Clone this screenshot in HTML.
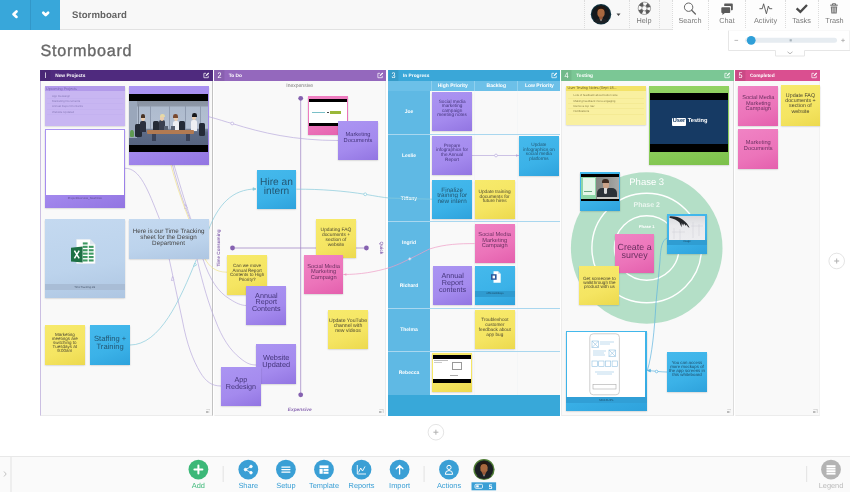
<!DOCTYPE html>
<html><head><meta charset="utf-8">
<style>
*{box-sizing:border-box;margin:0;padding:0}
html,body{width:850px;height:492px;overflow:hidden;background:#fff;font-family:"Liberation Sans",sans-serif;text-rendering:geometricPrecision}
body{will-change:transform}
.a{position:absolute}
#top{left:0;top:0;width:850px;height:30px;background:#f8f8f8;border-bottom:1px solid #e2e2e2}
.nb{top:0;height:30px;width:30px;background:#38a7da}
.tbtn{top:0;height:30px;border-left:1px dashed #d5d5d5;text-align:center;font-size:8px;color:#777;padding-top:19px}
.sec{top:70px;height:345.5px;background:#f9f9f9}
.bd{left:0;top:0;right:0;bottom:0;border:1px solid #ececec;border-top:none}
.hd{left:0;top:0;right:0;height:10.5px;color:#fff;font-size:4.8px;font-weight:bold;line-height:10.5px;white-space:nowrap}
.hd b{position:absolute;left:0;top:0;width:11px;height:10.5px;line-height:11.5px;background:rgba(0,0,0,.07);text-align:center;font-size:8px;font-weight:normal;transform:scaleX(.9)}
.hd i{position:absolute;left:15px;top:1.9px;font-style:normal;line-height:10.5px}
.n{box-shadow:0 .6px 1.600px rgba(0,0,0,.22);text-align:center;color:#333;overflow:hidden}
.pu{background:linear-gradient(160deg,#ab95f2 0%,#a48aee 60%,#9275e2 100%)}
.bl{background:linear-gradient(160deg,#45b9ec 0%,#3bb2e8 60%,#2ea2dc 100%)}
.ye{background:linear-gradient(160deg,#f7ea6c 0%,#f5e562 60%,#ecd94e 100%)}
.lpu{background:#c8b6f2}
.lb{background:linear-gradient(170deg,#c4d9f0 0%,#bcd3ec 60%,#aec6e2 100%)}
.ly{background:#f9f0a0}
.gr{background:linear-gradient(170deg,#93d364 0%,#8bcd5a 70%,#7cc04a 100%)}
.pk{background:linear-gradient(160deg,#f083c4 0%,#ec74ba 60%,#e45fad 100%)}
.t1{font-size:4.2px;line-height:4.6px;padding-top:8px}
.t2{font-size:8px;line-height:8.5px}
.t3{font-size:5.2px;line-height:5.6px}
.row{left:0;width:42px;color:#fff;font-size:5px;font-weight:bold;text-align:center}
.tl{top:15.9px;text-align:center;font-size:7.3px;line-height:10px;color:#7a7a7a}
.bb{border-radius:50%;width:20px;height:20px;top:460px;background:#3a9fd5}
.bl8{top:481px;width:50px;text-align:center;font-size:7.4px;line-height:10px}
</style></head><body>
<!-- TOP BAR -->
<div id="top" class="a"></div>
<div class="a nb" style="left:0"></div><div class="a nb" style="left:30px;border-left:1px solid #3297c8"></div>
<svg class="a" style="left:0;top:0" width="60" height="30"><path d="M16.500 11.500 L13.500 14.200 L16.500 16.900" fill="none" stroke="#fff" stroke-width="2.700" stroke-linecap="round" stroke-linejoin="round"/><path d="M43.300 12.700 L45.700 15.100 L48.100 12.700" fill="none" stroke="#fff" stroke-width="2.700" stroke-linecap="round" stroke-linejoin="round"/></svg>
<div class="a" style="left:72px;top:10px;font-size:9.6px;font-weight:bold;color:#646464;line-height:12px;letter-spacing:.05px">Stormboard</div>
<div class="a" style="left:40.5px;top:40.2px;font-size:16.2px;color:#686868;line-height:22px;letter-spacing:.72px;-webkit-text-stroke:.35px #686868">Stormboard</div>

<!-- top right -->
<div class="a" style="left:672px;top:0;width:178px;height:29.5px;background:#fdfdfd"></div>
<div class="a" style="left:583.5px;top:0;height:29.5px;border-left:1px dotted #dcdcdc"></div>
<div class="a" style="left:629px;top:0;height:29.5px;border-left:1px dotted #dcdcdc"></div>
<div class="a" style="left:659px;top:0;height:29.5px;border-left:1px dotted #dcdcdc"></div>
<div class="a" style="left:671.5px;top:0;height:29.5px;border-left:1px dotted #dcdcdc"></div>
<div class="a" style="left:708px;top:0;height:29.5px;border-left:1px dotted #dcdcdc"></div>
<div class="a" style="left:745px;top:0;height:29.5px;border-left:1px dotted #dcdcdc"></div>
<div class="a" style="left:784.5px;top:0;height:29.5px;border-left:1px dotted #dcdcdc"></div>
<div class="a" style="left:818px;top:0;height:29.5px;border-left:1px dotted #dcdcdc"></div>
<svg class="a" style="left:580px;top:0" width="270" height="60" viewBox="580 0 270 60">
 <!-- avatar -->
 <circle cx="601" cy="14.200" r="10.200" fill="#10303c"/>
 <circle cx="601" cy="14.200" r="9" fill="#14191d"/>
 <path d="M597.300 12 Q597 6.800 601 6.800 Q605 6.800 604.700 12 L604.500 15 Q603 18.300 601 18.300 Q599 18.300 597.500 15Z" fill="#a8683f"/>
 <path d="M597 12.500 Q596.300 6 601 6 Q605.700 6 605 12.500 Q604.500 9 601 8.800 Q597.500 9 597 12.500Z" fill="#24160f"/>
 <path d="M599.300 16.500 H602.700 V20 H599.300Z" fill="#96593a"/>
 <path d="M599.600 18.500 L601 20.800 L602.400 18.500 L602.800 21.500 H599.200Z" fill="#e8e4e0"/>
 <path d="M593.800 21.500 Q597 18.600 599.500 18.600 L601 21.600 L602.500 18.600 Q605 18.600 608.200 21.500 Q605 23.500 601 23.500 Q597 23.500 593.800 21.500Z" fill="#1d2125"/>
 <path d="M616.500 13.600 L620.500 13.600 L618.500 16Z" fill="#444"/>
 <!-- help lifebuoy -->
 <circle cx="644.4" cy="8.3" r="4.4" fill="none" stroke="#5a5a5a" stroke-width="3.6" stroke-dasharray="3.456 3.456" stroke-dashoffset="-1.728"/>
 <circle cx="644.4" cy="8.3" r="6.2" fill="none" stroke="#666" stroke-width=".6"/>
 <circle cx="644.4" cy="8.3" r="2.600" fill="none" stroke="#666" stroke-width=".6"/>
 <!-- search -->
 <circle cx="688.6" cy="7.2" r="4.2" fill="none" stroke="#666" stroke-width="1"/>
 <path d="M691.7 10.3 L695.4 14" stroke="#666" stroke-width="1.3" stroke-linecap="round"/>
 <!-- chat -->
 <path d="M724.8 3.6 h7.2 q.8 0 .8.8 v5 q0 .8 -.8 .8 h-1 v-3.4 q0-.9-.9-.9 h-5.9 v-1.5 q0-.8 .6-.8z" fill="#5a5a5a"/>
 <path d="M722.2 7.3 h7.2 q.8 0 .8.8 v4.2 q0 .8 -.8 .8 h-4.6 l-2.4 1.9 v-1.9 h-.3 q-.8 0 -.8-.8 v-4.2 q0-.8 .9-.8z" fill="#5a5a5a"/>
 <!-- activity -->
 <path d="M759.8 8.700 H762.300 L763.600 3.800 L766.400 13.800 L768.400 6 L769.500 8.700 H771.800" fill="none" stroke="#555" stroke-width=".9" stroke-linejoin="round" stroke-linecap="round"/>
 <!-- tasks -->
 <path d="M796.6 8.4 L800.4 11.9 L807 5" fill="none" stroke="#4a4a4a" stroke-width="2.3"/>
 <!-- trash -->
 <path d="M830.2 5.2 h7.6 M832.4 5 v-1.2 h3.2 v1.2" fill="none" stroke="#666" stroke-width="1"/>
 <path d="M830.8 6.4 h6.4 l-.5 7.2 h-5.4z" fill="#777"/>
 <path d="M832.6 7.5 v5 M834 7.5 v5 M835.4 7.5 v5" stroke="#f2f2f2" stroke-width=".6"/>
 <!-- zoom panel -->
 <path d="M728.5 30 V50.5 H775.5 V56 H804.5 V50.5 H850 V30Z" fill="#fff" stroke="#e6e6e6" stroke-width="1"/>
 <rect x="728" y="29" width="123" height="1.6" fill="#fdfdfd"/>
 <rect x="745" y="37.8" width="92" height="5" rx="2.5" fill="#e6ecf1"/>
 <rect x="789.6" y="39.2" width="2.2" height="2.2" fill="#a9b4bc"/>
 <circle cx="751.2" cy="40.3" r="4.4" fill="#2f9fd8"/>
 <path d="M734.5 40.4 h3.6 M841.2 40.4 h3.6 M843 38.6 v3.6" stroke="#aaa" stroke-width=".8"/>
 <path d="M787.5 51.8 L790 53.8 L792.5 51.8" fill="none" stroke="#999" stroke-width=".7"/>
</svg>
<div class="a tl" style="left:629px;width:30px">Help</div>
<div class="a tl" style="left:672px;width:36px">Search</div>
<div class="a tl" style="left:709px;width:36px">Chat</div>
<div class="a tl" style="left:746px;width:39px">Activity</div>
<div class="a tl" style="left:785px;width:33px">Tasks</div>
<div class="a tl" style="left:819px;width:31px">Trash</div>
<div id="s1" class="a sec" style="left:40.2px;width:172.6px"><div class="a bd" style="border-left-color:#cbbfe2;border-right-color:#c2c2c2"></div><div class="a hd" style="background:#4f2a7e"><b>I</b><i>New Projects</i><svg class="a" style="right:2.800px;top:2px" width="6.600" height="6.600" viewBox="0 0 15 15"><path d="M12 8.5V13H2V3H7" fill="none" stroke="#fff" stroke-width="1.6"/><path d="M6 9.5 L6.6 6.8 L12 1.2 L14 3.2 L8.6 8.8Z" fill="#fff"/></svg></div><svg class="a" style="right:2.5px;bottom:2.5px" width="4.5" height="4.5" viewBox="0 0 9 9"><path d="M.5 .5H8.5V8.5" fill="none" stroke="#aaa" stroke-width="1"/><rect x="0" y="4" width="5" height="5" fill="#bbb"/></svg></div>
<div id="s2" class="a sec" style="left:213.7px;width:172.4px"><svg class="a" style="left:0;top:0" width="173" height="345" viewBox="213.7 70 173 345">
<g stroke="#a48bc6" stroke-width=".8" fill="#8561b0"><path d="M300.4 98V395M232 248H366"/><circle cx="300.4" cy="98.3" r="2.4" stroke="none"/><circle cx="300.4" cy="394.8" r="2.4" stroke="none"/><circle cx="232.2" cy="248" r="2.4" stroke="none"/><circle cx="366.1" cy="248" r="2.4" stroke="none"/></g></svg>
<div class="a" style="left:66px;top:12.8px;width:40px;text-align:center;font-size:5px;line-height:6px;color:#777">Inexpensive</div>
<div class="a" style="left:66px;top:337.800px;width:40px;text-align:center;font-size:4.8px;line-height:6px;color:#8d6cb4;font-weight:bold;font-style:italic">Expensive</div>
<div class="a" style="left:-14.5px;top:175px;width:40px;text-align:center;font-size:4.6px;line-height:6px;color:#8d6cb4;font-weight:bold;transform:rotate(-90deg)">Time Consuming</div>
<div class="a" style="left:147.5px;top:175px;width:40px;text-align:center;font-size:4.6px;line-height:6px;color:#8d6cb4;font-weight:bold;transform:rotate(90deg)">Quick</div>
<div class="a bd" style="border-left-color:transparent"></div><div class="a hd" style="background:#9468bd"><b>2</b><i>To Do</i><svg class="a" style="right:2.800px;top:2px" width="6.600" height="6.600" viewBox="0 0 15 15"><path d="M12 8.5V13H2V3H7" fill="none" stroke="#fff" stroke-width="1.6"/><path d="M6 9.5 L6.6 6.8 L12 1.2 L14 3.2 L8.6 8.8Z" fill="#fff"/></svg></div><svg class="a" style="right:2.5px;bottom:2.5px" width="4.5" height="4.5" viewBox="0 0 9 9"><path d="M.5 .5H8.5V8.5" fill="none" stroke="#aaa" stroke-width="1"/><rect x="0" y="4" width="5" height="5" fill="#bbb"/></svg></div>
<div id="s3" class="a sec" style="left:388px;width:172.3px"><div class="a" style="left:0;top:10.5px;width:172.3px;height:10px;background:#6cc0e8"></div><div class="a" style="left:0;top:20.5px;width:42.1px;height:304px;background:#5fb9e4"></div><div class="a" style="left:0;top:324.5px;width:172.3px;height:21px;background:#38a8d9"></div><div class="a row" style="top:39.25px;line-height:7px">Joe</div><div class="a row" style="top:82.75px;line-height:7px">Leslie</div><div class="a row" style="top:126.25px;line-height:7px">Tiffany</div><div class="a row" style="top:169.75px;line-height:7px">Ingrid</div><div class="a row" style="top:213.25px;line-height:7px">Richard</div><div class="a row" style="top:256.75px;line-height:7px">Thelma</div><div class="a row" style="top:300.25px;line-height:7px">Rebecca</div><div class="a" style="left:42.5px;top:10.5px;width:43.5px;height:10px;line-height:10px;color:#fff;font-size:5px;font-weight:bold;text-align:center;border-left:.5px solid #8fd0ee">High Priority</div><div class="a" style="left:86px;top:10.5px;width:43.5px;height:10px;line-height:10px;color:#fff;font-size:5px;font-weight:bold;text-align:center;border-left:.5px solid #8fd0ee">Backlog</div><div class="a" style="left:86px;top:20.5px;width:.6px;height:304px;background:#f4f6f7"></div><div class="a" style="left:129.2px;top:10.5px;width:43.5px;height:10px;line-height:10px;color:#fff;font-size:5px;font-weight:bold;text-align:center;border-left:.5px solid #8fd0ee">Low Priority</div><div class="a" style="left:129.2px;top:20.5px;width:.6px;height:304px;background:#f4f6f7"></div><div class="a" style="left:0;top:63.5px;width:172.3px;height:.8px;background:#a9d7ef"></div><div class="a" style="left:0;top:150.5px;width:172.3px;height:.8px;background:#a9d7ef"></div><div class="a" style="left:0;top:237.5px;width:172.3px;height:.8px;background:#a9d7ef"></div><div class="a" style="left:0;top:281.0px;width:172.3px;height:.8px;background:#a9d7ef"></div><div class="a bd" style="border-color:transparent"></div><div class="a hd" style="background:#3aa7d8"><b>3</b><i>In Progress</i><svg class="a" style="right:2.800px;top:2px" width="6.600" height="6.600" viewBox="0 0 15 15"><path d="M12 8.5V13H2V3H7" fill="none" stroke="#fff" stroke-width="1.6"/><path d="M6 9.5 L6.6 6.8 L12 1.2 L14 3.2 L8.6 8.8Z" fill="#fff"/></svg></div></div>
<div id="s4" class="a sec" style="left:561.3px;width:172.3px"><svg class="a" style="left:0;top:0" width="173" height="345" viewBox="561.3 70 173 345">
<circle cx="647" cy="248" r="75.8" fill="#b4dfc7"/>
<circle cx="647" cy="248" r="54.8" fill="none" stroke="#fff" stroke-width="1.4"/>
<circle cx="647" cy="248" r="32.3" fill="none" stroke="#fff" stroke-width="1.4"/>
<g fill="#fff" font-family="Liberation Sans" text-anchor="middle"><text x="647" y="184.6" font-size="9.5">Phase 3</text><text x="647" y="207" font-size="7" font-weight="bold" fill="#eaf6ef">Phase 2</text><text x="647" y="228.4" font-size="4.2" font-weight="bold">Phase 1</text></g>
</svg><div class="a bd" style="border-right-color:#dcdcdc"></div><div class="a hd" style="background:#7bc795"><b>4</b><i>Testing</i><svg class="a" style="right:2.800px;top:2px" width="6.600" height="6.600" viewBox="0 0 15 15"><path d="M12 8.5V13H2V3H7" fill="none" stroke="#fff" stroke-width="1.6"/><path d="M6 9.5 L6.6 6.8 L12 1.2 L14 3.2 L8.6 8.8Z" fill="#fff"/></svg></div><svg class="a" style="right:2.5px;bottom:2.5px" width="4.5" height="4.5" viewBox="0 0 9 9"><path d="M.5 .5H8.5V8.5" fill="none" stroke="#aaa" stroke-width="1"/><rect x="0" y="4" width="5" height="5" fill="#bbb"/></svg></div>
<div id="s5" class="a sec" style="left:734.9px;width:85.6px"><div class="a bd" style="border-left-color:transparent;border-right-color:#f2f2f2"></div><div class="a hd" style="background:#da4f90"><b>5</b><i>Completed</i><svg class="a" style="right:2.800px;top:2px" width="6.600" height="6.600" viewBox="0 0 15 15"><path d="M12 8.5V13H2V3H7" fill="none" stroke="#fff" stroke-width="1.6"/><path d="M6 9.5 L6.6 6.8 L12 1.2 L14 3.2 L8.6 8.8Z" fill="#fff"/></svg></div><svg class="a" style="right:2.5px;bottom:2.5px" width="4.5" height="4.5" viewBox="0 0 9 9"><path d="M.5 .5H8.5V8.5" fill="none" stroke="#aaa" stroke-width="1"/><rect x="0" y="4" width="5" height="5" fill="#bbb"/></svg></div>
<svg class="a" style="left:0;top:0" width="850" height="492" fill="none" stroke-width=".7">
<g stroke="#b9abdc">
<path d="M208 116.5 C218 119 226 122 232.2 123.5 C262 133 295 140.500 338 140.500"/>
<path d="M125 168.300 C140 168 148 190 159.200 218.200 C163 232 166 245 169.100 258.600 L182.300 320 C187 345 193 360 200 372 C206 382 212 386 221 386"/>
<path d="M172.500 165 C176 180 184 205 190 219 L196.900 258.600 C203 285 209 305 215.300 320 C222 338 230 350 240 358 C246 363 250 365 256.200 365"/>
<path d="M174 165 C180 185 188 212 192 222 L202.800 258.600 C210 280 218 292 230 299.200 C236 303 241 305.500 246.400 305.500"/>
<circle cx="232.2" cy="123.5" r="1.4" fill="#fff"/>
<path d="M185.6 204.5l1.6 3.4l-2.6 .6z M172.500 276.500l1.400 3.500l-2.500 .5z" fill="#fff"/>
</g>
<path d="M171 165 C176 185 186 212 190 222 L204.800 258.600 C209 266 215 272.200 227 272.200" stroke="#f0e38a"/>
<g stroke="#86cadb">
<path d="M130 345 C160 345 180 300 196.2 260"/>
<path d="M208.5 230 C218 205 232 189 256 189"/>
<path d="M296.400 189.200 C320 189 345 191 365.200 194.300 C375 196 383 197.500 390 198.100 L432 199.200"/>
<circle cx="365.200" cy="194.300" r="1.400" fill="#fff"/>
<path d="M193.600 266.500l1.200 -3.500l1.800 2z" fill="#fff"/>
<path d="M253 187.700l3 1.300l-3 1.300z" fill="#86cadb"/>
</g>
<path d="M343.400 274.500 C360 274.500 375 272 390 267.500 C400 264 405 261 409.500 259 C420 254 425 251 429.500 249 C445 244 460 243.600 474.600 243.600" stroke="#ef9cc6"/><path d="M346.400 273.200l-3 1.300l3 1.300z" fill="#ef9cc6"/>
<path d="M409.800 257.400v3M408.300 258.900h3" stroke="#fff" stroke-width=".7"/>
<path d="M472 155.500 H519" stroke="#b9abdc"/><circle cx="496" cy="155.500" r="1.400" fill="#fff" stroke="#b9abdc"/><path d="M516 154.200l3 1.300l-3 1.300z" fill="#b9abdc"/>
<g stroke="#5fb4e0">
<path d="M667.200 238 C662 240 660.500 248 660 261 L656 303 C654.500 330 652 355 647.500 370"/>
<path d="M667.200 372 C660 372 655 371 647.500 370.500"/>
<circle cx="656.600" cy="371.500" r="1.300" fill="#fff"/>
<path d="M650.500 369.300l-3 1.200l2.900 1.500z" fill="#5fb4e0"/>
</g>
</svg>
<div class="a n lpu" style="left:44.50px;top:86.20px;width:80.50px;height:39.60px"><div class="a" style="left:0.00px;top:0.00px;width:80.50px;height:5.00px;background:#b29aea;"></div><div class="a" style="left:1.5px;top:.4px;font-size:3.7px;line-height:5px;color:#7a68b0;white-space:nowrap">Upcoming Projects</div><div class="a" style="left:7.5px;top:7.4px;font-size:2.9px;line-height:4px;color:#8a7cba;white-space:nowrap">App Redesign</div><div class="a" style="left:2.00px;top:11.80px;width:76.00px;height:0.30px;background:#c4b2f0;"></div><div class="a" style="left:7.5px;top:12.8px;font-size:2.9px;line-height:4px;color:#8a7cba;white-space:nowrap">Marketing Documents</div><div class="a" style="left:2.00px;top:17.20px;width:76.00px;height:0.30px;background:#c4b2f0;"></div><div class="a" style="left:7.5px;top:18.2px;font-size:2.9px;line-height:4px;color:#8a7cba;white-space:nowrap">Annual Report Contents</div><div class="a" style="left:2.00px;top:22.60px;width:76.00px;height:0.30px;background:#c4b2f0;"></div><div class="a" style="left:7.5px;top:23.6px;font-size:2.9px;line-height:4px;color:#8a7cba;white-space:nowrap">Website Updated</div><div class="a" style="left:2.00px;top:28.00px;width:76.00px;height:0.30px;background:#c4b2f0;"></div></div>
<div class="a n pu" style="left:44.50px;top:128.60px;width:80.50px;height:79.60px"><div class="a" style="left:1.30px;top:1.30px;width:77.90px;height:65.40px;background:#fff;"></div><div class="a" style="left:0;top:67.6px;width:80.5px;text-align:center;font-size:2.8px;line-height:4px;color:#5a4a8a">ProjectOverview_NewHires</div></div>
<div class="a n pu" style="left:128.50px;top:86.20px;width:80.10px;height:78.80px"><div class="a" style="left:0.80px;top:7.70px;width:78.60px;height:58.00px;background:#000;"></div><div class="a" style="left:0.80px;top:14.50px;width:78.60px;height:43.90px;background:linear-gradient(#8791a0 0%,#8e98a8 12%,#aebbce 13%,#b4c0d2 62%,#7a879e 64%,#5d6b86 72%,#56637e 100%);"></div><div class="a" style="left:0.80px;top:14.50px;width:8.20px;height:37.30px;background:#9aa7bb;"></div><div class="a" style="left:9.00px;top:17.80px;width:1.10px;height:28.00px;background:#7f8a9c;"></div><div class="a" style="left:21.50px;top:19.80px;width:1.10px;height:23.00px;background:#8f9bb0;"></div><div class="a" style="left:40.00px;top:19.80px;width:1.10px;height:23.00px;background:#8f9bb0;"></div><div class="a" style="left:56.00px;top:19.80px;width:1.10px;height:23.00px;background:#8f9bb0;"></div><div class="a" style="left:71.50px;top:19.80px;width:1.10px;height:23.00px;background:#8f9bb0;"></div><div class="a" style="left:1.50px;top:43.80px;width:3.50px;height:7.00px;background:#5f9a52;border-radius:50% 50% 20% 20%"></div><div class="a" style="left:6.00px;top:38.30px;width:7.00px;height:13.00px;background:#242a36;border-radius:1.5px"></div><div class="a" style="left:24.50px;top:34.80px;width:5.50px;height:13.00px;background:#242a36;border-radius:1.5px"></div><div class="a" style="left:50.50px;top:34.80px;width:6.00px;height:13.00px;background:#242a36;border-radius:1.5px"></div><div class="a" style="left:70.00px;top:37.30px;width:6.50px;height:13.00px;background:#242a36;border-radius:1.5px"></div><div class="a" style="left:11.30px;top:34.80px;width:6.40px;height:11.00px;background:#2b3040;border-radius:2px 2px 0 0"></div><div class="a" style="left:12.40px;top:29.20px;width:4.20px;height:5.80px;background:#eacdb0;border-radius:50%"></div><div class="a" style="left:12.10px;top:28.20px;width:4.80px;height:3.20px;background:#4a3426;border-radius:2.400px 2.400px 0 0"></div><div class="a" style="left:30.50px;top:34.30px;width:6.40px;height:11.00px;background:#3a4050;border-radius:2px 2px 0 0"></div><div class="a" style="left:31.60px;top:28.70px;width:4.20px;height:5.80px;background:#eacdb0;border-radius:50%"></div><div class="a" style="left:31.30px;top:27.70px;width:4.80px;height:3.20px;background:#e6d9a6;border-radius:2.400px 2.400px 0 0"></div><div class="a" style="left:44.10px;top:34.80px;width:6.40px;height:11.00px;background:#eef0f4;border-radius:2px 2px 0 0"></div><div class="a" style="left:45.20px;top:29.20px;width:4.20px;height:5.80px;background:#eacdb0;border-radius:50%"></div><div class="a" style="left:44.90px;top:28.20px;width:4.80px;height:3.20px;background:#7a4a30;border-radius:2.400px 2.400px 0 0"></div><div class="a" style="left:62.60px;top:33.80px;width:6.40px;height:11.00px;background:#eef0f4;border-radius:2px 2px 0 0"></div><div class="a" style="left:63.70px;top:28.20px;width:4.20px;height:5.80px;background:#eacdb0;border-radius:50%"></div><div class="a" style="left:63.40px;top:27.20px;width:4.80px;height:3.20px;background:#17181c;border-radius:2.400px 2.400px 0 0"></div><div class="a" style="left:18.80px;top:43.80px;width:47.00px;height:3.80px;background:#b27a52;border-radius:1px"></div><div class="a" style="left:23.50px;top:47.60px;width:4.00px;height:7.70px;background:#3a4258;"></div><div class="a" style="left:57.00px;top:47.60px;width:4.00px;height:7.70px;background:#3a4258;"></div><div class="a" style="left:35.00px;top:40.30px;width:4.50px;height:3.50px;background:#596273;"></div><div class="a" style="left:42.50px;top:40.30px;width:4.00px;height:3.50px;background:#596273;"></div></div>
<div class="a n lb" style="left:44.50px;top:218.80px;width:80.50px;height:79.70px"><svg class="a" style="left:26.800px;top:19.900px" width="24.5" height="25" viewBox="0 0 24.5 25"><path d="M5.400 .3h13.600l5.200 5.200v19.200h-18.800z" fill="#fff" stroke="#d5dde8" stroke-width=".4"/><path d="M19 .3v5.200h5.200z" fill="#dfe6ee"/><g fill="#3f9a63"><rect x="11.800" y="3.4" width="4.800" height="2.100"/><rect x="11.800" y="6.8" width="4.800" height="2.100"/><rect x="17.800" y="6.8" width="4.800" height="2.100"/><rect x="11.800" y="10.2" width="4.800" height="2.100"/><rect x="17.800" y="10.2" width="4.800" height="2.100"/><rect x="11.800" y="13.6" width="4.800" height="2.100"/><rect x="17.800" y="13.6" width="4.800" height="2.100"/><rect x="11.800" y="17.0" width="4.800" height="2.100"/><rect x="17.800" y="17.0" width="4.800" height="2.100"/><rect x="11.800" y="20.4" width="4.800" height="2.100"/><rect x="17.800" y="20.4" width="4.800" height="2.100"/></g><path d="M0 8.800L11.600 7.600V23.600L0 22.400z" fill="#1d7044"/><path d="M3.400 11.600 L8.200 19.400 M8.200 11.600 L3.400 19.400" stroke="#fff" stroke-width="1.500"/></svg><div class="a" style="left:0.00px;top:65.70px;width:80.50px;height:5.60px;background:#a9bdd6;"></div><div class="a" style="left:0;top:66.5px;width:80.5px;text-align:center;font-size:2.8px;line-height:4px;color:#4a5a70">TimeTracking.xls</div></div>
<div class="a n lb" style="left:128.50px;top:218.80px;width:80.10px;height:39.80px"><div class="a" style="left:0;top:10.18px;width:80.10px;font-size:6.3px;line-height:6.10px;color:#444;white-space:nowrap">Here is our Time Tracking<br>sheet for the Design<br>Department</div></div>
<div class="a n ye" style="left:44.90px;top:325.40px;width:39.80px;height:39.40px"><div class="a" style="left:0;top:7.43px;width:39.80px;font-size:4.5px;line-height:4.12px;color:#4a4530;white-space:nowrap">Marketing<br>meetings are<br>switching to<br>Tuesdays at<br>9:00am</div></div>
<div class="a n bl" style="left:90.00px;top:325.40px;width:40.20px;height:39.40px"><div class="a" style="left:0;top:9.98px;width:40.20px;font-size:7.6px;line-height:7.20px;color:#235672;white-space:nowrap">Staffing +<br>Training</div></div>
<div class="a n pk" style="left:308.00px;top:95.80px;width:40.00px;height:39.20px"><div class="a" style="left:1.00px;top:3.20px;width:38.00px;height:27.20px;background:#000;"></div><div class="a" style="left:1.00px;top:6.20px;width:38.00px;height:21.00px;background:#fff;"></div><div class="a" style="left:4.00px;top:16.20px;width:13.00px;height:1.20px;background:#7ac0c8;"></div><div class="a" style="left:22.00px;top:15.60px;width:11.00px;height:2.20px;background:#9ab83a;"></div><div class="a" style="left:19.00px;top:15.80px;width:1.80px;height:1.80px;background:#444;"></div></div>
<div class="a n pu" style="left:338.00px;top:120.80px;width:40.00px;height:39.60px"><div class="a" style="left:0;top:12.64px;width:40.00px;font-size:5.7px;line-height:5.30px;color:#44357a;white-space:nowrap">Marketing<br>Documents</div></div>
<div class="a n bl" style="left:256.60px;top:169.50px;width:39.80px;height:39.60px"><div class="a" style="left:0;top:8.31px;width:39.80px;font-size:10.2px;line-height:9.60px;color:#235672;white-space:nowrap">Hire an<br>intern</div></div>
<div class="a n ye" style="left:315.90px;top:219.30px;width:40.20px;height:39.20px"><div class="a" style="left:0;top:9.97px;width:40.20px;font-size:4.9px;line-height:4.80px;color:#4a4530;white-space:nowrap">Updating FAQ<br>documents +<br>section of<br>website</div></div>
<div class="a n ye" style="left:227.00px;top:254.80px;width:40.20px;height:39.80px"><div class="a" style="left:0;top:9.14px;width:40.20px;font-size:4.6px;line-height:4.65px;color:#4a4530;white-space:nowrap">Can we move<br>Annual Report<br>Contents to High<br>Priority?</div></div>
<div class="a n pk" style="left:303.80px;top:254.80px;width:39.60px;height:39.20px"><div class="a" style="left:0;top:10.08px;width:39.60px;font-size:5.7px;line-height:5.40px;color:#6a3060;white-space:nowrap">Social Media<br>Marketing<br>Campaign</div></div>
<div class="a n pu" style="left:246.40px;top:285.50px;width:39.80px;height:39.80px"><div class="a" style="left:0;top:7.21px;width:39.80px;font-size:7.2px;line-height:6.65px;color:#44357a;white-space:nowrap">Annual<br>Report<br>Contents</div></div>
<div class="a n ye" style="left:328.20px;top:309.50px;width:39.60px;height:39.10px"><div class="a" style="left:0;top:9.80px;width:39.60px;font-size:5.15px;line-height:4.95px;color:#4a4530;white-space:nowrap">Update YouTube<br>channel with<br>new videos</div></div>
<div class="a n pu" style="left:256.20px;top:344.00px;width:40.00px;height:39.50px"><div class="a" style="left:0;top:9.89px;width:40.00px;font-size:7.4px;line-height:7.00px;color:#44357a;white-space:nowrap">Website<br>Updated</div></div>
<div class="a n pu" style="left:221.00px;top:366.60px;width:39.80px;height:39.80px"><div class="a" style="left:0;top:10.30px;width:39.80px;font-size:7.2px;line-height:6.70px;color:#44357a;white-space:nowrap">App<br>Redesign</div></div>
<div class="a n pu" style="left:432.30px;top:92.20px;width:39.60px;height:39.10px"><div class="a" style="left:0;top:7.69px;width:39.60px;font-size:4.7px;line-height:4.47px;color:#44357a;white-space:nowrap">Social media<br>marketing<br>campaign<br>meeting notes</div></div>
<div class="a n pu" style="left:432.30px;top:136.00px;width:39.70px;height:39.20px"><div class="a" style="left:0;top:7.54px;width:39.70px;font-size:4.7px;line-height:4.67px;color:#44357a;white-space:nowrap">Prepare<br>infographics for<br>the Annual<br>Report</div></div>
<div class="a n bl" style="left:519.10px;top:136.00px;width:39.60px;height:39.70px"><div class="a" style="left:0;top:7.46px;width:39.60px;font-size:4.7px;line-height:4.50px;color:#235672;white-space:nowrap">Update<br>infographics on<br>social media<br>platforms</div></div>
<div class="a n bl" style="left:432.30px;top:179.50px;width:39.70px;height:39.40px"><div class="a" style="left:0;top:8.26px;width:39.70px;font-size:6.3px;line-height:5.70px;color:#235672;white-space:nowrap">Finalize<br>training for<br>new intern</div></div>
<div class="a n ye" style="left:474.60px;top:179.50px;width:40.10px;height:39.50px"><div class="a" style="left:0;top:11.89px;width:40.10px;font-size:4.75px;line-height:4.35px;color:#4a4530;white-space:nowrap">Update training<br>documents for<br>future hires</div></div>
<div class="a n pk" style="left:474.60px;top:223.50px;width:40.10px;height:39.60px"><div class="a" style="left:0;top:9.84px;width:40.10px;font-size:5.7px;line-height:5.50px;color:#6a3060;white-space:nowrap">Social Media<br>Marketing<br>Campaign</div></div>
<div class="a n pu" style="left:432.70px;top:265.90px;width:39.80px;height:39.60px"><div class="a" style="left:0;top:5.72px;width:39.80px;font-size:7.2px;line-height:7.00px;color:#44357a;white-space:nowrap">Annual<br>Report<br>contents</div></div>
<div class="a n bl" style="left:475.00px;top:265.90px;width:39.70px;height:39.60px"><svg class="a" style="left:14.5px;top:5.5px" width="11" height="12" viewBox="0 0 11 12"><path d="M3.5 .3h4.5l2.7 2.7v8.7h-7.2z" fill="#fff"/><path d="M8 .3v2.7h2.7z" fill="#cfe0ee"/><rect x="1" y="3.2" width="5.6" height="5.6" fill="#2b579a"/><rect x="2.6" y="4.6" width="2.4" height="2.8" fill="#fff"/></svg><div class="a" style="left:0.00px;top:25.40px;width:39.70px;height:5.60px;background:#2f9bd0;"></div><div class="a" style="left:0;top:26.2px;width:39.7px;text-align:center;font-size:2.7px;line-height:4px;color:#1a4a66">OfficeHolidays</div></div>
<div class="a n ye" style="left:475.00px;top:310.00px;width:39.70px;height:39.10px"><div class="a" style="left:0;top:8.36px;width:39.70px;font-size:4.7px;line-height:4.75px;color:#4a4530;white-space:nowrap">Troubleshoot<br>customer<br>feedback about<br>app bug</div></div>
<div class="a n ye" style="left:432.30px;top:352.70px;width:39.60px;height:39.20px"><div class="a" style="left:0.80px;top:2.80px;width:38.00px;height:27.50px;background:#000;"></div><div class="a" style="left:0.80px;top:5.90px;width:38.00px;height:20.60px;background:#fff;"></div><div class="a" style="left:2.00px;top:7.50px;width:14.00px;height:1.00px;background:#bbb;"></div><div class="a" style="left:2.00px;top:9.50px;width:8.00px;height:0.60px;background:#ccc;"></div><div class="a" style="left:20.00px;top:9.00px;width:10.00px;height:8.00px;background:#fff;border:.4px solid #999"></div><div class="a" style="left:18.00px;top:22.00px;width:8.00px;height:0.60px;background:#aaa;"></div></div>
<div class="a n ly" style="left:566.00px;top:85.80px;width:80.00px;height:39.60px"><div class="a" style="left:0.00px;top:0.00px;width:80.00px;height:5.00px;background:#f3e268;"></div><div class="a" style="left:1.5px;top:.4px;font-size:3.7px;line-height:5px;color:#6e6426;white-space:nowrap">User Testing Notes (Sept 18...</div><div class="a" style="left:7.5px;top:7.4px;font-size:2.9px;line-height:4px;color:#8f8548;white-space:nowrap">Lots of feedback about button size</div><div class="a" style="left:2.00px;top:11.80px;width:76.00px;height:0.30px;background:#f4ea94;"></div><div class="a" style="left:7.5px;top:12.8px;font-size:2.9px;line-height:4px;color:#8f8548;white-space:nowrap">Making feedback more engaging</div><div class="a" style="left:2.00px;top:17.20px;width:76.00px;height:0.30px;background:#f4ea94;"></div><div class="a" style="left:7.5px;top:18.2px;font-size:2.9px;line-height:4px;color:#8f8548;white-space:nowrap">Remove top nav</div><div class="a" style="left:2.00px;top:22.60px;width:76.00px;height:0.30px;background:#f4ea94;"></div><div class="a" style="left:7.5px;top:23.6px;font-size:2.9px;line-height:4px;color:#8f8548;white-space:nowrap">Notifications</div><div class="a" style="left:2.00px;top:28.00px;width:76.00px;height:0.30px;background:#f4ea94;"></div></div>
<div class="a n gr" style="left:649.20px;top:85.80px;width:80.00px;height:79.40px"><div class="a" style="left:1.00px;top:7.40px;width:78.00px;height:58.70px;background:#000;"></div><div class="a" style="left:1.00px;top:14.20px;width:78.00px;height:44.50px;background:#163a64;"></div><div class="a" style="left:22.5px;top:32.600px;width:14.6px;height:7.2px;background:#fff;border-radius:1px;color:#163a64;font-size:5.7px;line-height:7.2px;font-weight:bold;text-align:center">User</div><div class="a" style="left:38.5px;top:32.600px;color:#fff;font-size:5.7px;line-height:7.2px;font-weight:bold">Testing</div></div>
<div class="a n bl" style="left:580.00px;top:171.60px;width:39.50px;height:39.40px"><div class="a" style="left:0.60px;top:2.40px;width:38.00px;height:26.70px;background:#000;"></div><div class="a" style="left:0.60px;top:5.00px;width:38.00px;height:22.10px;background:linear-gradient(90deg,#7d7f7c 0%,#8a8c89 55%,#a9aaa8 100%);"></div><div class="a" style="left:0.60px;top:5.00px;width:15.40px;height:22.10px;background:#8ed6a8;"></div><div class="a" style="left:2.80px;top:6.40px;width:11.80px;height:17.50px;background:#e6f6ea;"></div><div class="a" style="left:3.50px;top:19.40px;width:8.50px;height:0.80px;background:#6aa880;"></div><div class="a" style="left:17.00px;top:16.90px;width:19.50px;height:10.20px;background:#2c3238;border-radius:5px 5px 0 0"></div><div class="a" style="left:22.50px;top:8.90px;width:6.00px;height:8.30px;background:#c9a288;border-radius:45%"></div><div class="a" style="left:22.20px;top:7.90px;width:6.60px;height:4.00px;background:#3e2c22;border-radius:3px 3px 0 0"></div><div class="a" style="left:23.80px;top:16.40px;width:3.40px;height:6.00px;background:#d8d8d8;border-radius:0 0 2px 2px"></div><div class="a" style="left:17.00px;top:25.20px;width:21.60px;height:1.90px;background:#c8c8c4;"></div></div>
<div class="a n bl" style="left:667.00px;top:214.20px;width:40.00px;height:40.10px"><div class="a" style="left:1.60px;top:1.70px;width:36.70px;height:24.40px;background:linear-gradient(180deg,#d9dadd 0%,#e9e9ec 40%,#ededf0 100%);"></div><svg class="a" style="left:1.6px;top:1.7px" width="36.7" height="24.4" viewBox="0 0 36.7 24.4"><path d="M.5 .4 C6 .2 10 1 13.500 3.500 C17 6 19.500 9 20.500 11.800 L19 11 L17.500 8.500 L17 10 L15 7.500 L14.200 9.800 L12.800 7 L12.500 11.200 L10.500 6.500 C8.500 4.500 4 2.500 .5 1.800Z" fill="#25272b"/><path d="M5 12V23M11 13V24M24 6V22M30 8V20M22 10H34M3 16H16" stroke="#cfcfd4" stroke-width=".5" fill="none"/></svg><div class="a" style="left:0.00px;top:26.10px;width:40.00px;height:4.30px;background:#2f9dd2;"></div><div class="a" style="left:0;top:26.300px;width:40px;text-align:center;font-size:2.7px;line-height:4px;color:#1a4a66">Image</div></div>
<div class="a n pk" style="left:614.70px;top:233.70px;width:39.80px;height:39.80px"><div class="a" style="left:0;top:10.17px;width:39.80px;font-size:8.9px;line-height:7.80px;color:#6a3060;white-space:nowrap">Create a<br>survey</div></div>
<div class="a n ye" style="left:579.30px;top:265.80px;width:40.20px;height:39.40px"><div class="a" style="left:0;top:11.06px;width:40.20px;font-size:4.6px;line-height:4.10px;color:#4a4530;white-space:nowrap">Get someone to<br>walkthrough the<br>product with us</div></div>
<div class="a n bl" style="left:566.00px;top:330.60px;width:80.60px;height:80.00px"><div class="a" style="left:1.20px;top:1.40px;width:78.20px;height:65.30px;background:#fff;"></div><svg class="a" style="left:22.5px;top:2.6px" width="32" height="63" viewBox="0 0 32 63" fill="none" stroke="#b8bcc2" stroke-width=".6"><rect x=".8" y=".8" width="29.6" height="61" rx="3.5" stroke="#cacaca" stroke-width=".9"/><g stroke="#93c2e2"><rect x="3" y="8" width="6.5" height="6.5"/><path d="M3 8l6.5 6.5M9.5 8L3 14.500M11 9h14M11 11h10"/><rect x="20" y="17" width="6.5" height="6.5"/><path d="M20 17l6.500 6.5M26.5 17l-6.5 6.5M4 18h13M4 20h11M4 22h12"/><rect x="3" y="28" width="5.3" height="5.3"/><rect x="9.700" y="28" width="5.3" height="5.3"/><rect x="16.4" y="28" width="5.3" height="5.3"/><rect x="23.1" y="28" width="5.3" height="5.3"/><path d="M6 39h19M8 41h15"/></g><rect x="4" y="51.500" width="23" height="4.500" stroke="#aaa"/></svg><div class="a" style="left:0.00px;top:66.70px;width:80.60px;height:5.30px;background:#319fd6;"></div><div class="a" style="left:0;top:67.200px;width:80.6px;text-align:center;font-size:2.8px;line-height:4px;color:#1a4a66">MOCKUPS</div></div>
<div class="a n bl" style="left:667.20px;top:352.20px;width:39.60px;height:39.80px"><div class="a" style="left:0;top:8.68px;width:39.60px;font-size:4.4px;line-height:4.20px;color:#1d4a66;white-space:nowrap">You can access<br>more mockups of<br>the app screens in<br>this whiteboard</div></div>
<div class="a n pk" style="left:738.30px;top:86.20px;width:39.90px;height:39.50px"><div class="a" style="left:0;top:9.67px;width:39.90px;font-size:5.6px;line-height:5.70px;color:#6a3060;white-space:nowrap">Social Media<br>Marketing<br>Campaign</div></div>
<div class="a n ye" style="left:780.90px;top:85.10px;width:39.10px;height:40.60px"><div class="a" style="left:0;top:8.69px;width:39.10px;font-size:5.3px;line-height:5.30px;color:#4a4530;white-space:nowrap">Update FAQ<br>documents +<br>section of<br>website</div></div>
<div class="a n pk" style="left:738.30px;top:129.00px;width:39.90px;height:39.50px"><div class="a" style="left:0;top:12.16px;width:39.90px;font-size:5.7px;line-height:5.40px;color:#6a3060;white-space:nowrap">Marketing<br>Documents</div></div>
<svg class="a" style="left:0;top:0" width="850" height="492"><g fill="#fff" stroke="#ddd" stroke-width=".8"><circle cx="435.9" cy="432.200" r="7.8"/><circle cx="836.700" cy="261" r="7.800"/></g><path d="M433.400 432.200h5M435.900 429.700v5M834.200 261h5M836.700 258.500v5" stroke="#b0b0b0" stroke-width="1"/></svg>
<!-- BOTTOM BAR -->
<div class="a" style="left:0;top:456px;width:850px;height:36px;background:#fafafa;border-top:1px solid #e8e8e8"></div>
<svg class="a" style="left:0;top:456px" width="850" height="36" viewBox="0 456 850 36">
<path d="M11 457V492M223.200 466V482M424.100 466V482M806.700 466V482" stroke="#e2e2e2" stroke-width="1"/>
<path d="M4 471.500L6.200 474L4 476.500" fill="none" stroke="#aaa" stroke-width=".7"/>
<circle cx="198.400" cy="469.600" r="9.900" fill="#3cb878"/>
<path d="M194.400 469.600h8M198.400 465.600v8" stroke="#fff" stroke-width="2" stroke-linecap="round"/>
<g fill="#3a9fd5"><circle cx="248.300" cy="469.600" r="9.900"/><circle cx="285.900" cy="469.600" r="9.900"/><circle cx="324" cy="469.600" r="9.900"/><circle cx="361.500" cy="469.600" r="9.900"/><circle cx="399.600" cy="469.600" r="9.900"/><circle cx="449" cy="469.600" r="9.900"/></g>
<g fill="#fff" stroke="#fff" stroke-width=".8"><circle cx="251" cy="466.500" r="1.300"/><circle cx="245.500" cy="469.600" r="1.300"/><circle cx="251" cy="472.700" r="1.300"/><path d="M251 466.500L245.500 469.600L251 472.700" fill="none"/></g>
<path d="M281.900 467.100h8M281.900 469.600h8M281.900 472.100h8" stroke="#fff" stroke-width="1.400" stroke-linecap="round"/>
<g fill="#fff"><rect x="319.500" y="465.400" width="9" height="2.600"/><rect x="319.500" y="468.800" width="3.200" height="5"/><rect x="323.500" y="468.800" width="5" height="2.100"/><rect x="323.500" y="471.700" width="5" height="2.100"/></g>
<path d="M357.300 465V474H366M358.500 472.500L360.700 468L362.500 471L365 466.500" fill="none" stroke="#fff" stroke-width=".9"/>
<path d="M399.600 474V465.600M396.300 468.800L399.600 465.500L402.900 468.800" fill="none" stroke="#fff" stroke-width="1.300" stroke-linecap="round" stroke-linejoin="round"/>
<g fill="none" stroke="#fff" stroke-width="1"><circle cx="449" cy="467.400" r="2.100"/><path d="M445.300 474.300q0-3.800 3.700-3.800t3.700 3.800z"/></g>
<circle cx="484" cy="469.500" r="10.600" fill="#4f7d34"/><circle cx="484" cy="469.500" r="9.200" fill="#1b1f24"/>
<g transform="translate(-117 455.200)"><path d="M597.300 12 Q597 6.800 601 6.800 Q605 6.800 604.700 12 L604.500 15 Q603 18.300 601 18.300 Q599 18.300 597.500 15Z" fill="#a8683f"/><path d="M597 12.500 Q596.300 6 601 6 Q605.700 6 605 12.500 Q604.500 9 601 8.800 Q597.500 9 597 12.500Z" fill="#24160f"/><path d="M599.300 16.500 H602.700 V20 H599.300Z" fill="#96593a"/><path d="M599.600 18.500 L601 20.800 L602.400 18.500 L602.800 21.500 H599.200Z" fill="#e8e4e0"/><path d="M593.800 21.500 Q597 18.600 599.500 18.600 L601 21.600 L602.500 18.600 Q605 18.600 608.200 21.500 Q605 23.500 601 23.500 Q597 23.500 593.800 21.500Z" fill="#1d2125"/></g>
<rect x="471.500" y="482.300" width="24.600" height="8" fill="#3a9fd5"/><rect x="475" y="484.300" width="7.500" height="4" rx="1" fill="none" stroke="#fff" stroke-width=".8"/><rect x="476.200" y="485.300" width="2.500" height="2" fill="#fff"/>
<text x="490.500" y="489.300" font-family="Liberation Sans" font-size="6.500" font-weight="bold" fill="#fff" text-anchor="middle">5</text>
<circle cx="831" cy="469.600" r="9.900" fill="#b3b3b3"/><g fill="#fff"><rect x="826.500" y="465.200" width="9" height="1.900"/><rect x="826.500" y="467.700" width="9" height="1.900"/><rect x="826.500" y="470.200" width="9" height="1.900"/><rect x="826.500" y="472.700" width="9" height="1.900"/></g>
</svg>
<div class="a bl8" style="left:173.4px;color:#3cb878">Add</div>
<div class="a bl8" style="left:223.3px;color:#3a9fd5">Share</div>
<div class="a bl8" style="left:260.9px;color:#3a9fd5">Setup</div>
<div class="a bl8" style="left:299px;color:#3a9fd5">Template</div>
<div class="a bl8" style="left:336.5px;color:#3a9fd5">Reports</div>
<div class="a bl8" style="left:374.6px;color:#3a9fd5">Import</div>
<div class="a bl8" style="left:424px;color:#3a9fd5">Actions</div>
<div class="a bl8" style="left:806px;color:#bbb">Legend</div>
</body></html>
